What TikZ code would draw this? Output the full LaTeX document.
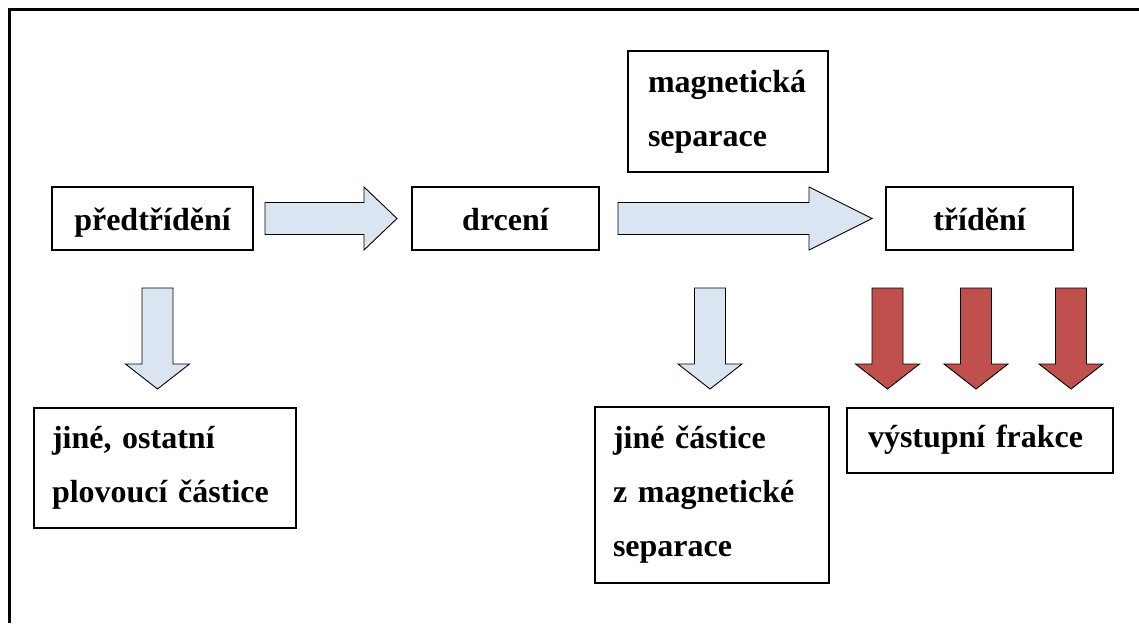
\documentclass[tikz,border=0pt]{standalone}
\usepackage{fontspec}
\setmainfont{Liberation Serif}
\definecolor{flowblue}{HTML}{DBE5F1}
\definecolor{flowred}{HTML}{C0504D}

% block arrow pointing down: #1 = style, #2 = centre x, shaft starts at y = 288
\newcommand{\dnarrow}[2]{%
  \draw[#1] (#2-15.5,288) -- (#2+15.5,288) -- (#2+15.5,364) -- (#2+32,364)
    -- (#2,389) -- (#2-32,364) -- (#2-15.5,364) -- cycle;}

\begin{document}
\begin{tikzpicture}[x=1pt,y=-1pt,
  box/.style={draw=black,line width=1.3pt,fill=white,inner sep=0pt,
    font=\bfseries\fontsize{32}{54}\selectfont},
  stepbox/.style={box,text height=24pt,text depth=1pt,minimum height=63pt},
  listbox/.style={box,align=left,text width=#1},
  bluearrow/.style={draw=black,line width=0.9pt,fill=flowblue,line join=miter},
  redarrow/.style={draw=black,line width=0.9pt,fill=flowred,line join=miter}]
\useasboundingbox (0,0) rectangle (1139,623);

% outer frame (open at right and bottom)
\draw[line width=2.5pt] (9.5,623) -- (9.5,9.5) -- (1139,9.5);

% process steps
\node[stepbox,minimum width=201pt] (pre) at (152.5,218.5) {předtřídění};
\node[stepbox,minimum width=187pt] (drc) at (505.5,218.5) {drcení};
\node[stepbox,minimum width=187pt] (tri) at (979.5,218.5) {třídění};
\node[listbox=160pt,inner xsep=20pt,minimum width=200pt,minimum height=121pt]
  (mag) at (728,111.5) {magnetická\\separace};

% outputs
\node[listbox=226pt,inner xsep=18pt,minimum height=120pt]
  (oth) at (165,468) {jiné, ostatní\\plovoucí částice};
\node[listbox=198pt,inner xsep=18pt,minimum height=176pt]
  (mgo) at (712,495) {jiné částice\\z magnetické\\separace};
\node[listbox=224pt,inner xsep=21pt,minimum height=65pt,text height=20pt,text depth=7pt]
  (out) at (980,440.5) {výstupní frakce};

% horizontal flow arrows
\draw[bluearrow] (265,202.5) -- (364,202.5) -- (364,187) -- (397,218.5)
  -- (364,250) -- (364,234.5) -- (265,234.5) -- cycle;
\draw[bluearrow] (618,202.5) -- (809,202.5) -- (809,187) -- (872,218.5)
  -- (809,250) -- (809,234.5) -- (618,234.5) -- cycle;

% downward arrows
\dnarrow{bluearrow}{157.5}
\dnarrow{bluearrow}{710}
\dnarrow{redarrow}{887.5}
\dnarrow{redarrow}{976}
\dnarrow{redarrow}{1071}
\end{tikzpicture}
\end{document}
